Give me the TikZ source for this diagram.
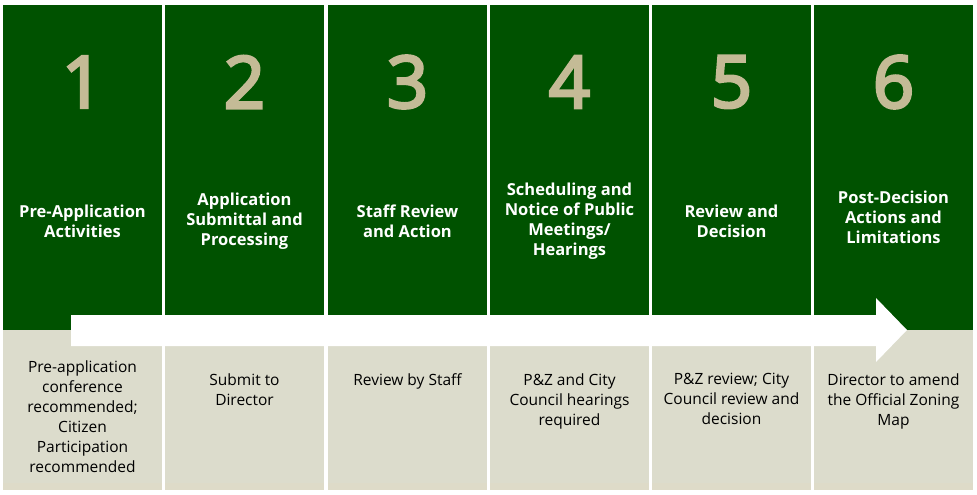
\documentclass[tikz,border=0pt]{standalone}
\usepackage{fontspec}
\setmainfont{Open Sans}
\newfontfamily\numfont[FakeBold=4]{Open Sans}
\definecolor{stepgreen}{RGB}{0,82,0}
\definecolor{steptan}{RGB}{196,187,150}
\definecolor{stepbeige}{RGB}{220,220,204}
\definecolor{stepfoot}{RGB}{222,219,200}
\begin{document}
\begin{tikzpicture}[x = 1pt, y = -1pt,
  topbox/.style = {fill=stepgreen, inner sep=0pt, anchor=north west, minimum width=159pt, minimum height=325pt},
  lowbox/.style = {fill=stepbeige, inner sep=0pt, anchor=north west, minimum width=159pt, minimum height=160pt},
  num/.style = {text=steptan, font=\numfont\fontsize{72}{72}\selectfont},
  head/.style = {text=white, align=center, font=\fontsize{16.5}{20}\selectfont\bfseries},
  txt/.style = {text=black, align=center, anchor=north, font=\fontsize{15.5}{20}\selectfont}]
\useasboundingbox (0,0) rectangle (977,495);
% green and beige columns
\node[topbox] (top1) at (3,5) {};
\node[topbox] (top2) at (165,5) {};
\node[topbox] (top3) at (328,5) {};
\node[topbox] (top4) at (490,5) {};
\node[topbox] (top5) at (652,5) {};
\node[topbox] (top6) at (814,5) {};
\node[lowbox] (low1) at (3,330) {};
\node[lowbox] (low2) at (165,330) {};
\node[lowbox] (low3) at (328,330) {};
\node[lowbox] (low4) at (490,330) {};
\node[lowbox] (low5) at (652,330) {};
\node[lowbox] (low6) at (814,330) {};
\fill[stepfoot] (3,483) rectangle (162,490);
\fill[stepfoot] (165,483) rectangle (324,490);
\fill[stepfoot] (328,483) rectangle (487,490);
\fill[stepfoot] (490,483) rectangle (649,490);
\fill[stepfoot] (652,483) rectangle (811,490);
\fill[stepfoot] (814,483) rectangle (973,490);
% arrow
\fill[white] (71,315) -- (876,315) -- (876,298) -- (907,330) -- (876,362) -- (876,346) -- (71,346) -- cycle;
% numbers
\node[num] (num1) at (82.5,82) {1};
\node[num] (num2) at (244.5,82) {2};
\node[num] (num3) at (407.5,82) {3};
\node[num] (num4) at (569.5,82) {4};
\node[num] (num5) at (731.5,82) {5};
\node[num] (num6) at (893.5,82) {6};
% headings
\node[head] (head1) at (82.5,221) {Pre-Application\\Activities};
\node[head] (head2) at (244.5,221) {Application\\Submittal and\\Processing};
\node[head] (head3) at (407.5,221) {Staff Review\\and Action};
\node[head] (head4) at (569.5,221) {Scheduling and\\Notice of Public\\Meetings/\\Hearings};
\node[head] (head5) at (731.5,221) {Review and\\Decision};
\node[head] (head6) at (893.5,217) {Post-Decision\\Actions and\\Limitations};
% descriptions
\node[txt] (txt1) at (82.5,357) {Pre-application\\conference\\recommended;\\Citizen\\Participation\\recommended};
\node[txt] (txt2) at (244.5,370) {Submit to\\Director};
\node[txt] (txt3) at (407.5,370) {Review by Staff};
\node[txt] (txt4) at (569.5,370) {P\&Z and City\\Council hearings\\required};
\node[txt] (txt5) at (731.5,370) {P\&Z review; City\\Council review and\\decision};
\node[txt] (txt6) at (893.5,370) {Director to amend\\the Official Zoning\\Map};
\end{tikzpicture}
\end{document}
